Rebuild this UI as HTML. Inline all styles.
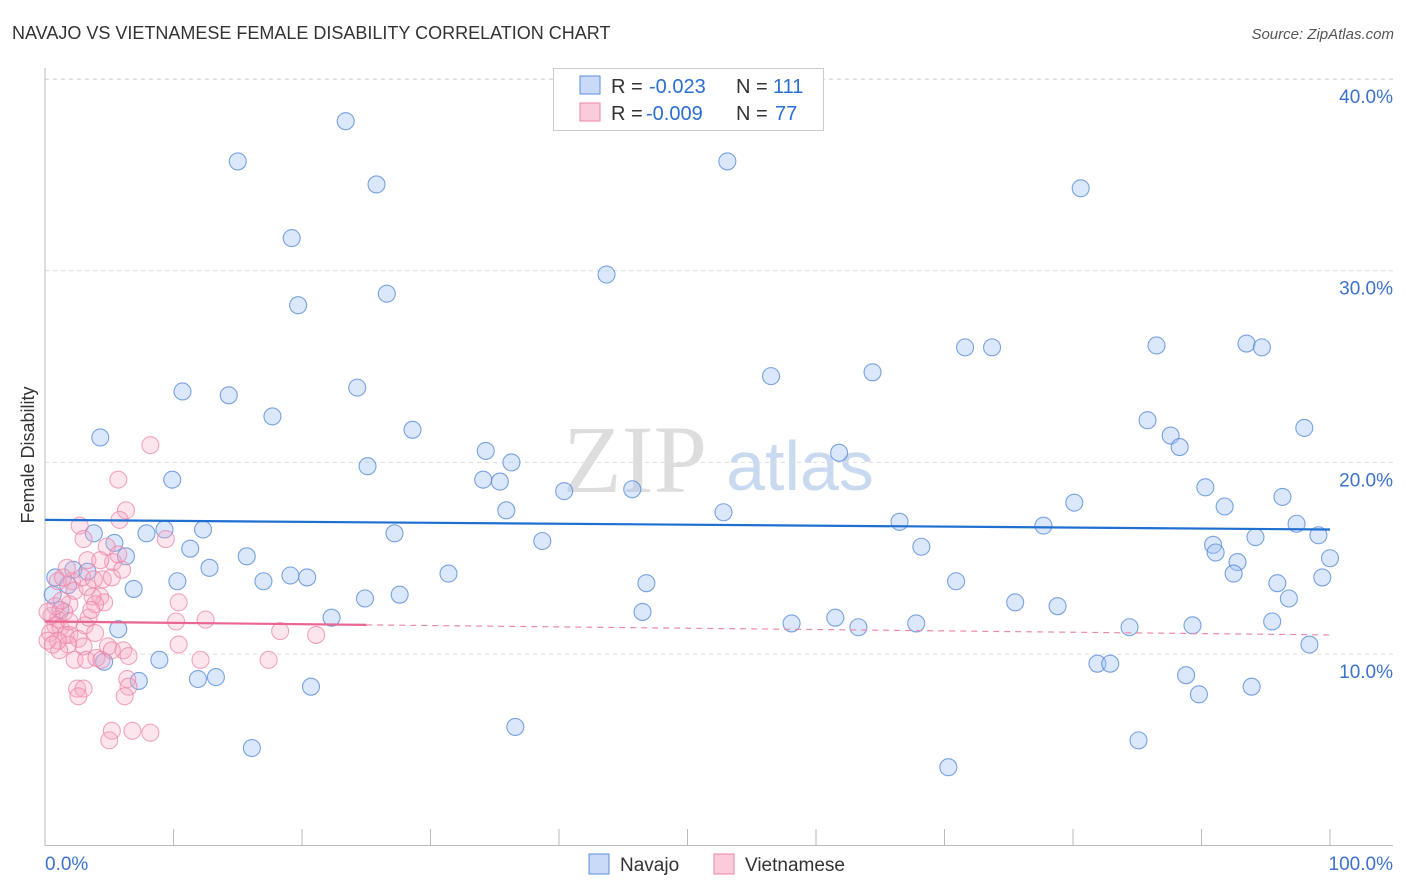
<!DOCTYPE html>
<html><head><meta charset="utf-8"><style>
body{margin:0;background:#fff;font-family:"Liberation Sans",sans-serif;}
svg{display:block}
</style></head><body>
<svg id="chart" width="1406" height="892">
<text x="12" y="39" font-size="18" fill="#333">NAVAJO VS VIETNAMESE FEMALE DISABILITY CORRELATION CHART</text>
<text x="1394" y="39" font-size="15" fill="#555" font-style="italic" text-anchor="end">Source: ZipAtlas.com</text>
<g>
<text x="635" y="492" font-size="96" font-family="Liberation Serif,serif" fill="#ddd" text-anchor="middle">ZIP</text>
<text x="800" y="490" font-size="70" fill="#c9daf0" text-anchor="middle">atlas</text>
</g>
<g id="grid"></g><g id="axes"></g><g id="pts"></g><g id="trend"></g>
<text transform="translate(34,455) rotate(-90)" font-size="18" fill="#333" text-anchor="middle">Female Disability</text>
<g>
<rect x="553.5" y="68.5" width="270" height="62" fill="#fff" stroke="#ccc"/>
<rect x="580" y="76" width="20" height="18" fill="rgba(164,194,244,0.6)" stroke="#5b8fd9"/>
<rect x="580" y="103" width="20" height="18" fill="rgba(246,170,195,0.6)" stroke="#ea86a5"/>
<text x="611" y="93" font-size="20" fill="#333">R =</text>
<text x="649" y="93" font-size="20" fill="#2a6fd1">-0.023</text>
<text x="736" y="93" font-size="20" fill="#333">N =</text>
<text x="773" y="93" font-size="20" fill="#2a6fd1">111</text>
<text x="611" y="120" font-size="20" fill="#333">R =</text>
<text x="646" y="120" font-size="20" fill="#2a6fd1">-0.009</text>
<text x="736" y="120" font-size="20" fill="#333">N =</text>
<text x="775" y="120" font-size="20" fill="#2a6fd1">77</text>
</g>
<g>
<rect x="589" y="854" width="20" height="20" fill="rgba(164,194,244,0.6)" stroke="#5b8fd9"/>
<text x="620" y="871" font-size="19" fill="#333">Navajo</text>
<rect x="714" y="854" width="20" height="20" fill="rgba(246,170,195,0.6)" stroke="#ea86a5"/>
<text x="745" y="871" font-size="19" fill="#333">Vietnamese</text>
</g>
</svg>
<script>
const yTicks=[10,20,30,40];
const yTickLabels=["10.0%","20.0%","30.0%","40.0%"];
const xTickLabels=["0.0%","100.0%"];
const navajoX=[23.4,15.0,53.1,25.8,80.6,19.2,43.7,19.7,26.6,71.6,73.7,86.5,93.5,94.7,56.5,64.4,10.7,14.3,24.3,17.7,85.8,98.0,4.3,28.6,87.6,88.3,34.3,61.8,25.1,36.3,9.9,34.1,35.4,40.4,45.7,90.3,96.3,80.1,35.9,52.8,91.8,3.8,9.3,12.3,7.9,27.2,66.5,77.7,97.4,5.4,38.7,94.2,99.1,11.3,6.3,15.7,68.2,90.9,91.1,100.0,12.8,92.8,2.2,0.8,3.3,31.4,92.5,10.3,17.0,19.1,20.4,46.8,70.9,95.9,99.4,6.9,1.8,27.6,24.9,96.8,75.5,78.8,46.5,1.2,22.3,61.5,58.1,63.3,67.8,89.3,95.5,84.4,5.7,98.4,4.6,8.9,81.9,82.9,88.8,7.3,11.9,13.3,20.7,93.9,89.8,36.6,16.1,85.1,70.3,0.6];
const navajoY=[37.8,35.7,35.7,34.5,34.3,31.7,29.8,28.2,28.8,26.0,26.0,26.1,26.2,26.0,24.5,24.7,23.7,23.5,23.9,22.4,22.2,21.8,21.3,21.7,21.4,20.8,20.6,20.5,19.8,20.0,19.1,19.1,19.0,18.5,18.6,18.7,18.2,17.9,17.5,17.4,17.7,16.3,16.5,16.5,16.3,16.3,16.9,16.7,16.8,15.8,15.9,16.1,16.2,15.5,15.1,15.1,15.6,15.7,15.3,15.0,14.5,14.8,14.4,14.0,14.3,14.2,14.2,13.8,13.8,14.1,14.0,13.7,13.8,13.7,14.0,13.4,13.6,13.1,12.9,12.9,12.7,12.5,12.2,12.3,11.9,11.9,11.6,11.4,11.6,11.5,11.7,11.4,11.3,10.5,9.6,9.7,9.5,9.5,8.9,8.6,8.7,8.8,8.3,8.3,7.9,6.2,5.1,5.5,4.1,13.1];
const vietX=[8.2,5.7,6.3,5.8,2.7,3.0,4.8,3.3,5.3,5.7,4.5,4.3,4.6,2.1,2.3,3.3,3.7,3.9,1.9,1.5,1.0,0.5,0.8,1.2,1.6,1.9,2.6,3.1,3.9,3.0,1.8,1.1,2.3,3.2,4.0,4.4,4.9,6.1,6.5,0.8,0.2,0.4,1.3,1.0,1.7,2.9,3.8,5.2,10.4,10.2,12.5,10.4,12.1,17.4,18.3,21.1,6.4,6.5,2.5,3.0,2.6,6.2,5.2,6.8,8.2,5.0,9.4,1.4,1.9,3.4,3.6,5.2,1.0,0.2,0.6,4.3,6.0];
const vietY=[20.9,19.1,17.5,17.0,16.7,16.0,15.6,14.9,14.8,15.2,13.9,13.0,12.7,13.8,13.3,13.5,13.0,12.6,12.6,12.2,11.8,12.0,11.5,11.4,11.0,11.0,10.8,11.5,11.1,10.4,10.5,10.2,9.7,9.7,9.8,9.7,10.4,10.2,9.9,12.5,12.2,11.1,12.8,13.8,14.5,14.0,13.9,14.0,12.7,11.7,11.8,10.5,9.7,9.7,11.2,11.0,8.7,8.3,8.2,8.2,7.8,7.8,6.0,6.0,5.9,5.5,16.0,14.0,11.7,11.9,12.3,10.2,10.7,10.7,10.5,14.9,14.4];
const navajoTrend=[17.0,16.5];
const vietTrend=[11.7,11.0];
const vietSolidEnd=25;

const NS="http://www.w3.org/2000/svg";
const X=v=>45+v*12.85, Y=v=>845.8-v*19.17;
function mk(tag,attrs,parent){const e=document.createElementNS(NS,tag);for(const k in attrs)e.setAttribute(k,attrs[k]);parent.appendChild(e);return e;}
const grid=document.getElementById('grid'),axes=document.getElementById('axes'),pts=document.getElementById('pts'),tr=document.getElementById('trend');
mk('line',{x1:45,y1:Y(40)+0.5,x2:1393,y2:Y(40)+0.5,stroke:'#ddd','stroke-dasharray':'4,4'},grid);
yTicks.forEach((t,i)=>{
 const g=mk('line',{x1:45,y1:Y(t),x2:1393,y2:Y(t),stroke:'#ddd','stroke-dasharray':'4,4'},grid);
 
 
 const l=mk('text',{x:1393,y:Y(t)+24,'font-size':19,fill:'#3c72cc','text-anchor':'end'},axes);
 l.textContent=yTickLabels[i];
 
 
});
mk('line',{x1:45,y1:68,x2:45,y2:846,stroke:'#bbb'},axes);
mk('line',{x1:45,y1:845.5,x2:1393,y2:845.5,stroke:'#bbb'},axes);
for(let i=1;i<=10;i++){mk('line',{x1:X(i*10),y1:829,x2:X(i*10),y2:846,stroke:'#bbb'},axes);}
[[0,45,'start'],[1,1393,'end']].forEach(([i,x,a])=>{
 const l=mk('text',{x:x,y:870,'font-size':19,fill:'#3c72cc','text-anchor':a},axes);
 l.textContent=xTickLabels[i];
 
 
});
navajoX.forEach((v,i)=>{
 const c=mk('circle',{cx:X(v),cy:Y(navajoY[i]),r:8.5,fill:'rgba(164,194,244,0.4)',stroke:'rgba(80,135,215,0.75)','stroke-width':1.1},pts);
 
 
});
vietX.forEach((v,i)=>{
 const c=mk('circle',{cx:X(v),cy:Y(vietY[i]),r:8.5,fill:'rgba(246,170,195,0.3)',stroke:'rgba(236,130,165,0.7)','stroke-width':1.1},pts);
 
 
});
const nl=mk('line',{x1:X(0),y1:Y(navajoTrend[0]),x2:X(100),y2:Y(navajoTrend[1]),stroke:'#1f6fd1','stroke-width':2.2},tr);


const vm=vietTrend[0]+(vietTrend[1]-vietTrend[0])*vietSolidEnd/100;
const vl=mk('line',{x1:X(0),y1:Y(vietTrend[0]),x2:X(vietSolidEnd),y2:Y(vm),stroke:'#e8668f','stroke-width':2.2},tr);


const vd=mk('line',{x1:X(vietSolidEnd),y1:Y(vm),x2:X(100),y2:Y(vietTrend[1]),stroke:'#eb8aa8','stroke-width':1.2,'stroke-dasharray':'6,5'},tr);


</script>
</body></html>
